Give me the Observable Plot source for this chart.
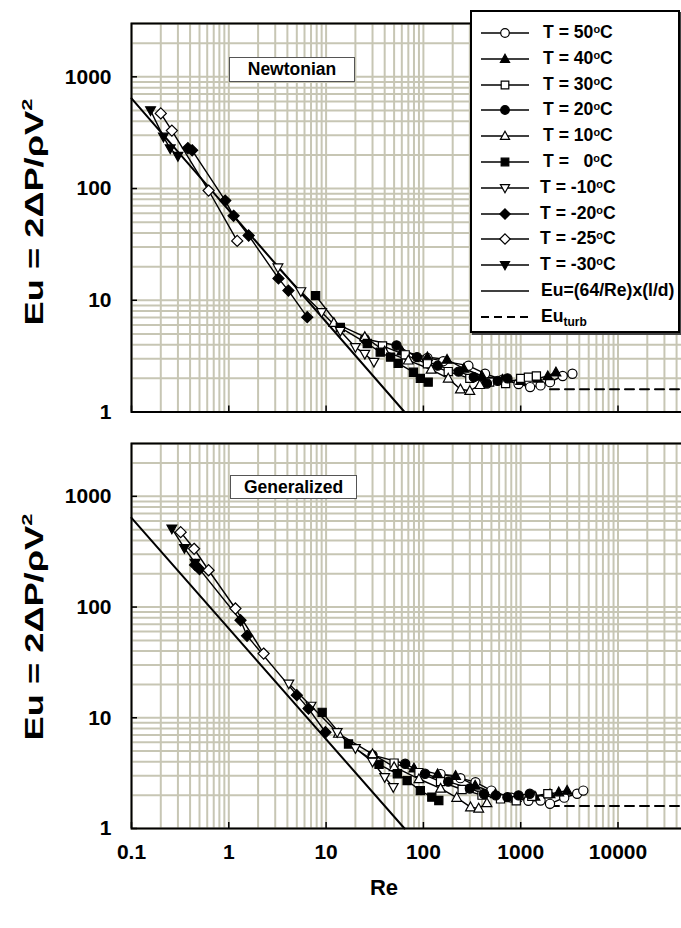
<!DOCTYPE html>
<html><head><meta charset="utf-8">
<script src="https://cdn.jsdelivr.net/npm/d3@7"></script>
<script src="https://cdn.jsdelivr.net/npm/@observablehq/plot@0.6"></script>
<style>
body{margin:0;background:#fff;font-family:"Liberation Sans",Arial,sans-serif;}
#wrap{position:relative;width:681px;height:928px;overflow:hidden;background:#fff;}
.panel{position:absolute;left:0;width:780px;}
.panel svg{max-width:none !important;width:780px;display:block;}
.ytitle{position:absolute;font-weight:bold;font-size:25px;white-space:nowrap;line-height:1;transform-origin:center center;}
.ytitle sup{font-size:0.6em;vertical-align:0.7em;line-height:0;}
.tag{position:absolute;border:1px solid #555;background:#fff;font-weight:bold;font-size:17.5px;text-align:center;box-sizing:border-box;}
#legend{position:absolute;left:470px;top:10px;width:206px;height:319px;border:2px solid #000;background:#fff;box-shadow:2px 2px 0 #444;}
.lrow{position:absolute;left:0;width:206px;height:22px;}
.lrow svg{position:absolute;left:8px;top:1px;}
.lrow .lt{position:absolute;left:71px;top:1px;font-weight:bold;font-size:17.6px;white-space:pre;line-height:19px;}
.lt sup{font-size:0.62em;vertical-align:0.5em;line-height:0;}
.lt sub{font-size:0.68em;vertical-align:-0.35em;line-height:0;}
#retitle{position:absolute;font-weight:bold;font-size:22px;left:384px;top:888px;transform:translate(-50%,-50%);}
</style></head><body><div id="wrap"></div>
<script>
// ---------- data ----------
const seriesLabels = ["T = 50", "T = 40", "T = 30", "T = 20", "T = 10", "T =   0", "T = -10", "T = -20", "T = -25", "T = -30"];
const seriesSymbols = ["circle", "triangle", "square", "circle", "triangle", "square", "triangleDown", "diamond", "diamond", "triangleDown"];
const seriesFilled = [false, true, false, true, false, true, false, true, false, true];

// Newtonian panel: [Re, Eu]
const N_T50 = [[110,3.05],[160,2.85],[290,2.6],[430,2.2],[650,1.95],[950,1.78],[1250,1.67],[1600,1.73],[2000,1.85],[2700,2.1],[3400,2.2]];
const N_T40 = [[60,3.5],[110,3.1],[175,2.95],[260,2.45],[400,2.1],[650,1.95],[1000,1.9],[1500,2.0],[1900,2.1],[2300,2.27]];
const N_T30 = [[38,3.9],[65,3.25],[110,2.7],[180,2.3],[300,2.0],[480,1.85],[700,1.8],[1000,2.0],[1200,2.05],[1450,2.1]];
const N_T20 = [[25,4.5],[53,3.94],[86,3.1],[140,2.6],[230,2.3],[330,2.05],[450,1.8],[580,1.9],[730,2.0]];
const N_T10 = [[12,6.3],[25,4.7],[40,3.5],[70,2.9],[120,2.4],[180,2.0],[240,1.6],[300,1.55],[380,1.75]];
const N_T0 = [[7.8,11.0],[14,5.7],[26.5,4.1],[36,3.43],[46,3.1],[55,2.72],[79,2.27],[93,2.0],[112,1.85]];
const N_Tm10 = [[3.2,19.6],[5.5,12],[9,7.8],[14,5.3],[20,3.8],[25,3.3],[31,2.8]];
const N_Tm20 = [[0.38,230],[0.42,220],[0.92,78],[1.12,57],[1.6,38],[3.24,15.7],[4.1,12.2],[6.4,7.06]];
const N_Tm25 = [[0.2,470],[0.26,330],[0.62,96],[1.22,34]];
const N_Tm30 = [[0.157,500],[0.213,290],[0.25,228],[0.3,195]];

// Generalized panel: [Re, Eu]
const G_T50 = [[150,3.1],[240,2.85],[343,2.62],[500,2.2],[800,1.9],[1200,1.78],[1600,1.79],[2000,1.67],[2800,1.9],[3800,2.06],[4400,2.2]];
const G_T40 = [[80,3.5],[140,3.1],[214,3.0],[340,2.45],[550,2.05],[900,1.9],[1400,1.95],[2000,2.05],[2460,2.13],[3000,2.2]];
const G_T30 = [[50,3.9],[90,3.2],[150,2.65],[250,2.25],[400,2.0],[620,1.85],[900,1.78],[1300,1.95],[1900,2.06]];
const G_T20 = [[30,4.6],[65,3.84],[104,3.12],[180,2.65],[300,2.3],[420,2.05],[555,1.99],[730,1.92],[950,1.99],[1240,2.06]];
const G_T10 = [[13.4,7.2],[30,4.7],[50,3.6],[90,2.8],[150,2.3],[220,1.9],[305,1.56],[370,1.52],[450,1.7]];
const G_T0 = [[9.1,11.2],[17,5.8],[35,3.8],[54,3.12],[68,2.71],[93,2.2],[122,1.92],[144,1.79]];
const G_Tm10 = [[4.14,20.3],[7,12.8],[13,7.4],[20,5.3],[30,4.0],[40,2.9],[49,2.36]];
const G_Tm20 = [[0.45,240],[0.5,220],[1.32,76],[1.54,55],[5.0,16],[6.6,12.1],[9.85,7.4]];
const G_Tm25 = [[0.32,475],[0.44,336],[0.62,215],[1.17,97],[2.28,38]];
const G_Tm30 = [[0.26,510],[0.35,340],[0.45,250]];

// Reference lines
const laminarLine = [[0.1,640],[64,1]];      // Eu = (64/Re)x(l/d)
const turbLine = [[2000,1.6],[100000,1.6]];   // Eu_turb

const xTicks = [0.1, 1, 10, 100, 1000, 10000];
const yTicks = [1, 10, 100, 1000];
const panelTitles = ["Newtonian", "Generalized"];

// ---------- drawing ----------
const gridColor = "#c7c6b4";
const gridX = [];
for (const d of xTicks) for (let m = 1; m < 10; m++) gridX.push(d * m);
const gridY = [];
for (const d of yTicks) for (let m = 1; m < 10; m++) if (d * m <= 3000) gridY.push(d * m);

const symbolDefs = {
  circle: d3.symbolCircle,
  square: d3.symbolSquare,
  triangle: {draw(c, size) { const h = Math.sqrt(size); c.moveTo(0, -h * 0.62); c.lineTo(h * 0.6, h * 0.45); c.lineTo(-h * 0.6, h * 0.45); c.closePath(); }},
  triangleDown: {draw(c, size) { const h = Math.sqrt(size); c.moveTo(0, h * 0.62); c.lineTo(h * 0.6, -h * 0.45); c.lineTo(-h * 0.6, -h * 0.45); c.closePath(); }},
  diamond: {draw(c, size) { const r = Math.sqrt(size) * 0.68; c.moveTo(0, -r); c.lineTo(r, 0); c.lineTo(0, r); c.lineTo(-r, 0); c.closePath(); }}
};

const wrap = document.getElementById("wrap");
const X = d => d[0], Y = d => d[1];

function makePanel(series, top, height, marginBottom, showX) {
  const marks = [
    Plot.ruleX(gridX, {stroke: gridColor, strokeWidth: 2}),
    Plot.ruleY(gridY, {stroke: gridColor, strokeWidth: 2}),
    Plot.line(laminarLine, {x: X, y: Y, stroke: "black", strokeWidth: 2}),
    Plot.line(turbLine, {x: X, y: Y, stroke: "black", strokeWidth: 2, strokeDasharray: "9,6"})
  ];
  series.forEach(s => marks.push(Plot.line(s, {x: X, y: Y, stroke: "black", strokeWidth: 1.4})));
  series.forEach((s, i) => marks.push(Plot.dot(s, {
    x: X, y: Y, r: 4.6, symbol: symbolDefs[seriesSymbols[i]],
    fill: seriesFilled[i] ? "black" : "white", stroke: "black", strokeWidth: 1.2
  })));
  marks.push(Plot.frame({stroke: "black", strokeWidth: 2}));
  marks.push(Plot.axisY(yTicks, {tickSize: -6, tickPadding: 26, tickFormat: d => String(d), fontSize: 21, fontWeight: "bold", label: null, strokeWidth: 1.5}));
  marks.push(Plot.axisX(xTicks, {tickSize: -6, tickPadding: 21.5, tickFormat: showX ? (d => String(d)) : (() => ""), fontSize: 21, fontWeight: "bold", label: null, strokeWidth: 1.5}));
  const svg = Plot.plot({
    width: 780, height,
    marginLeft: 131, marginRight: 65.2, marginTop: 23, marginBottom,
    x: {type: "log", domain: [0.1, 100000]},
    y: {type: "log", domain: [1, 3000]},
    style: {fontFamily: "Liberation Sans, Arial, sans-serif", background: "transparent", overflow: "visible", maxWidth: "none"},
    marks
  });
  const div = document.createElement("div");
  div.className = "panel";
  div.style.top = top + "px";
  div.appendChild(svg);
  wrap.appendChild(div);
}

makePanel([N_T50, N_T40, N_T30, N_T20, N_T10, N_T0, N_Tm10, N_Tm20, N_Tm25, N_Tm30], 0, 420, 8.5, false);
makePanel([G_T50, G_T40, G_T30, G_T20, G_T10, G_T0, G_Tm10, G_Tm20, G_Tm25, G_Tm30], 420, 508, 100, true);

// y titles
[212, 627].forEach(cy => {
  const t = document.createElement("div");
  t.className = "ytitle";
  t.innerHTML = "Eu = 2ΔP/ρV<sup>2</sup>";
  t.style.left = "34px"; t.style.top = cy + "px";
  t.style.transform = "translate(-50%,-50%) rotate(-90deg) scaleX(1.45)";
  wrap.appendChild(t);
});

// panel tags
[[229, 57, 126, 25], [230, 475, 127, 24]].forEach((b, i) => {
  const t = document.createElement("div");
  t.className = "tag";
  t.textContent = panelTitles[i];
  Object.assign(t.style, {left: b[0] + "px", top: b[1] + "px", width: b[2] + "px", height: b[3] + "px", lineHeight: (b[3] - 2) + "px"});
  wrap.appendChild(t);
});

// legend
const legend = document.createElement("div");
legend.id = "legend";
wrap.appendChild(legend);
const legendItems = seriesLabels.map((l, i) => ({html: l + "<sup>o</sup>C", sym: seriesSymbols[i], filled: seriesFilled[i], dash: null}));
legendItems.push({html: "Eu=(64/Re)x(l/d)", sym: null, dash: null});
legendItems.push({html: "Eu<sub>turb</sub>", sym: null, dash: "8,5"});
legendItems.forEach((it, i) => {
  const row = document.createElement("div");
  row.className = "lrow";
  row.style.top = (21 + 25.8 * i - 11) + "px";
  const s = d3.create("svg").attr("width", 52).attr("height", 20);
  s.append("line").attr("x1", 1).attr("x2", 49).attr("y1", 10).attr("y2", 10)
    .attr("stroke", "black").attr("stroke-width", it.dash ? 2 : 1.6).attr("stroke-dasharray", it.dash);
  if (it.sym) s.append("path").attr("transform", "translate(25,10)")
    .attr("d", d3.symbol(symbolDefs[it.sym], Math.PI * 4.3 * 4.3)())
    .attr("fill", it.filled ? "black" : "white").attr("stroke", "black").attr("stroke-width", 1.2);
  row.appendChild(s.node());
  const tx = document.createElement("div");
  tx.className = "lt";
  tx.innerHTML = it.html;
  if (i >= 6 && i <= 9) tx.style.left = "68px";
  if (i >= 10) tx.style.left = "69px";
  row.appendChild(tx);
  legend.appendChild(row);
});

const re = document.createElement("div");
re.id = "retitle";
re.textContent = "Re";
wrap.appendChild(re);
</script>
</body></html>
